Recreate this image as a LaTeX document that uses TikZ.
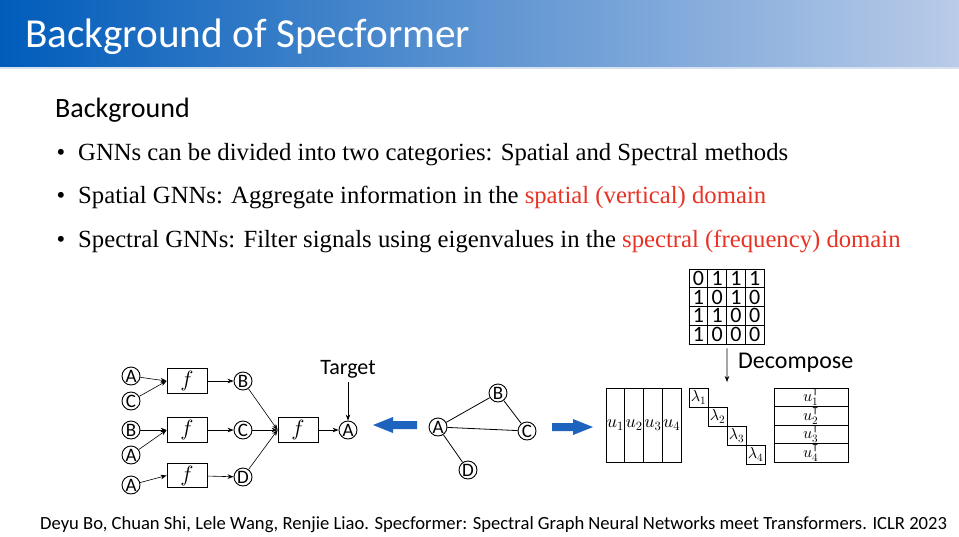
\documentclass[tikz,border=0pt]{standalone}
\DeclareFontFamily{OML}{cmm}{\skewchar\font127 }
\DeclareFontShape{OML}{cmm}{m}{it}{<->cmmi10}{}
\DeclareFontFamily{OT1}{cmr}{\hyphenchar\font45 }
\DeclareFontShape{OT1}{cmr}{m}{n}{<->cmr10}{}
\usepackage{fontspec}
\usepackage{amssymb}
\setmainfont{Liberation Serif}
\newfontfamily\carl{Carlito}
\usetikzlibrary{arrows.meta}
\definecolor{slideRed}{RGB}{232,50,36}
\definecolor{arrowBlue}{RGB}{30,100,190}
\definecolor{bannerL}{RGB}{0,92,186}
\definecolor{bannerM}{RGB}{90,155,215}
\definecolor{bannerR}{RGB}{185,203,232}
\begin{document}
\begin{tikzpicture}[x=1pt,y=-1pt,
  vtx/.style={circle,draw,line width=0.9pt,minimum size=18pt,inner sep=0pt,font=\carl\fontsize{19}{19}\selectfont},
  fbox/.style={draw,line width=0.8pt,minimum width=40pt,minimum height=24.5pt,inner sep=0pt,font=\fontsize{22}{22}\selectfont},
  arr/.style={-{Stealth[length=6pt,width=4.5pt]},line width=0.6pt},
  gedge/.style={line width=0.8pt},
  cell/.style={draw,line width=0.9pt,minimum size=18.75pt,inner sep=0pt,font=\carl\fontsize{22}{22}\selectfont},
  ucol/.style={draw,line width=0.9pt,minimum width=18.75pt,minimum height=74pt,inner sep=0pt,font=\fontsize{18}{18}\selectfont},
  urow/.style={draw,line width=0.9pt,minimum width=74pt,minimum height=18.5pt,inner sep=0pt,font=\fontsize{16}{16}\selectfont},
  lbox/.style={draw,line width=0.9pt,minimum size=19pt,inner sep=0pt,font=\fontsize{16}{16}\selectfont},
  bullettext/.style={anchor=base west,inner sep=0pt,font=\fontsize{24.7}{24.7}\selectfont},
  bulletdot/.style={inner sep=0pt,font=\fontsize{24.7}{24.7}\selectfont},
  blockarrow/.style={fill=arrowBlue}
]
\useasboundingbox (0,0) rectangle (959,536);
\fill[white] (0,0) rectangle (959,536);
% banner
\shade[left color=bannerL,middle color=bannerM,right color=bannerR] (0,0) rectangle (959,67);
\fill[bannerR!60!white] (0,67) rectangle (959,69);
\node[anchor=base west,inner sep=0pt,text=white,font=\carl\fontsize{41.2}{41.2}\selectfont] (title) at (25,47) {Background of Specformer};
% heading and bullets
\node[anchor=base west,inner sep=0pt,font=\carl\fontsize{28}{28}\selectfont] (bg) at (55,117) {Background};
\node[bulletdot,anchor=base] (b1) at (61,160) {•};
\node[bullettext] (t1) at (78,160) {GNNs can be divided into two categories: Spatial and Spectral methods};
\node[bulletdot,anchor=base] (b2) at (61,203) {•};
\node[bullettext] (t2) at (78,203) {Spatial GNNs: Aggregate information in the \textcolor{slideRed}{spatial (vertical) domain}};
\node[bulletdot,anchor=base] (b3) at (61,247) {•};
\node[bullettext] (t3) at (78,247) {Spectral GNNs: Filter signals using eigenvalues in the \textcolor{slideRed}{spectral (frequency) domain}};
% spatial aggregation tree
\node[vtx] (a1) at (131,376) {A};
\node[vtx] (c1) at (131,401) {C};
\node[vtx] (b2l) at (131,430) {B};
\node[vtx] (a2) at (131,455) {A};
\node[vtx] (a3) at (131,485) {A};
\node[fbox] (f1) at (187,381) {$f$};
\node[fbox] (f2) at (187,430) {$f$};
\node[fbox] (f3) at (187,475.5) {$f$};
\node[vtx] (bm) at (243,381) {B};
\node[vtx] (cm) at (243,430) {C};
\node[vtx] (dm) at (243,477) {D};
\node[fbox] (f4) at (298,430) {$f$};
\node[vtx] (at) at (348,430) {A};
\node[anchor=base,inner sep=0pt,font=\carl\fontsize{22}{22}\selectfont] (target) at (348,374) {Target};
\draw[arr] (a1) -- (f1.west);
\draw[arr] (c1) -- (f1.west);
\draw[arr] (b2l) -- (f2.west);
\draw[arr] (a2) -- (f2.west);
\draw[arr] (a3) -- (f3.west);
\draw[arr] (f1) -- (bm);
\draw[arr] (f2) -- (cm);
\draw[arr] (f3) -- (dm);
\draw[arr] (bm) -- (f4.west);
\draw[arr] (cm) -- (f4.west);
\draw[arr] (dm) -- (f4.west);
\draw[arr] (f4) -- (at);
\draw[arr] ([yshift=-4pt]target.south) -- (at.north);
% graph
\node[vtx] (ga) at (438,427) {A};
\node[vtx] (gb) at (498,393) {B};
\node[vtx] (gc) at (527,431) {C};
\node[vtx] (gd) at (468,470) {D};
\draw[gedge] (ga) -- (gb);
\draw[gedge] (gb) -- (gc);
\draw[gedge] (ga) -- (gc);
\draw[gedge] (ga) -- (gd);
% blue block arrows
\coordinate (lt) at (373,425);
\coordinate (rt) at (593,427);
\fill[blockarrow] (lt) -- ++(20,-8) -- ++(0,4) -- ++(24,0) -- ++(0,8) -- ++(-24,0) -- ++(0,4) -- cycle;
\fill[blockarrow] (rt) -- ++(-20,-8) -- ++(0,4) -- ++(-21,0) -- ++(0,8) -- ++(21,0) -- ++(0,4) -- cycle;
% adjacency matrix
\foreach \r [count=\i from 0] in {{0,1,1,1},{1,0,1,0},{1,1,0,0},{1,0,0,0}} {
  \foreach \v [count=\j from 0] in \r {
    \node[cell] (m\i\j) at ({698.4+18.75*\j},{278.4+18.75*\i}) {\v};
  }
}
\coordinate (decend) at (727,382);
\draw[arr] ([yshift=-4pt]m31.south east) -- (decend);
\node[anchor=west,inner sep=0pt,font=\carl\fontsize{24}{24}\selectfont] (dec) at (738,363) {Decompose};
% U matrix
\node[ucol] (u1) at (615.4,425) {$u_1$};
\node[ucol] (u2) at (634.1,425) {$u_2$};
\node[ucol] (u3) at (652.9,425) {$u_3$};
\node[ucol] (u4) at (671.6,425) {$u_4$};
% Lambda
\node[lbox] (l1) at (698.5,397.5) {$\lambda_1$};
\node[lbox] (l2) at (717.5,416.5) {$\lambda_2$};
\node[lbox] (l3) at (736.5,435.5) {$\lambda_3$};
\node[lbox] (l4) at (755.5,454.5) {$\lambda_4$};
% U transpose
\node[urow] (v1) at (811,397.25) {$u_1^{\intercal}$};
\node[urow] (v2) at (811,415.75) {$u_2^{\intercal}$};
\node[urow] (v3) at (811,434.25) {$u_3^{\intercal}$};
\node[urow] (v4) at (811,452.75) {$u_4^{\intercal}$};
% footer
\node[anchor=base west,inner sep=0pt,font=\carl\fontsize{18.6}{18.6}\selectfont] (foot) at (40,529) {Deyu Bo, Chuan Shi, Lele Wang, Renjie Liao. Specformer: Spectral Graph Neural Networks meet Transformers. ICLR 2023};
\end{tikzpicture}
\end{document}
